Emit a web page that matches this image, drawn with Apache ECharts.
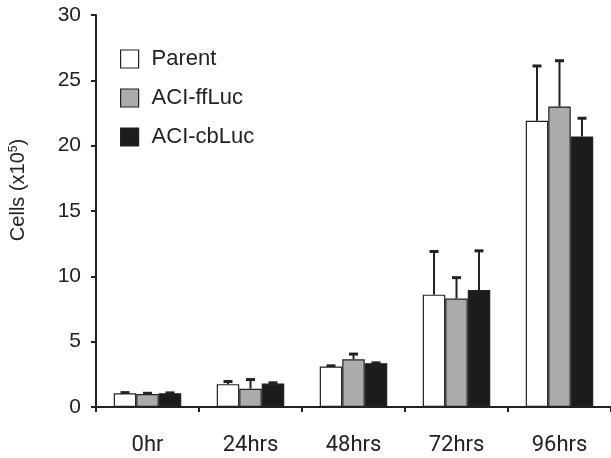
<!DOCTYPE html>
<html><head><meta charset="utf-8">
<script src="https://cdn.jsdelivr.net/npm/echarts@6/dist/echarts.min.js"></script>
<style>html,body{margin:0;padding:0;background:#fff}#c{width:611px;height:458px}</style>
</head><body><div id="c"></div>
<script>
const categories = ['0hr', '24hrs', '48hrs', '72hrs', '96hrs'];
const seriesNames = ['Parent', 'ACI-ffLuc', 'ACI-cbLuc'];
const parentMean = [1.05, 1.75, 3.1, 8.6, 21.9];
const parentSD   = [0.05, 0.2, 0.05, 3.3, 4.2];
const ffLucMean  = [1.0, 1.4, 3.65, 8.3, 23.0];
const ffLucSD    = [0.05, 0.7, 0.4, 1.6, 3.5];
const cbLucMean  = [1.05, 1.8, 3.35, 8.95, 20.7];
const cbLucSD    = [0.03, 0.05, 0.03, 3.0, 1.4];
const yTicks = [0, 5, 10, 15, 20, 25, 30];

const means = [parentMean, ffLucMean, cbLucMean];
const sds = [parentSD, ffLucSD, cbLucSD];
const colors = ['#ffffff', '#ababab', '#1c1c1c'];
const BW = 22.5;
const font = 'Liberation Sans, Arial, sans-serif';

const chart = echarts.init(document.getElementById('c'));
const series = [];
seriesNames.forEach((n, i) => {
  series.push({
    name: n, type: 'bar', data: means[i], barWidth: BW, barGap: '0%',
    itemStyle: { color: colors[i], borderColor: '#222', borderWidth: 1.2, borderRadius: 0 }
  });
});
seriesNames.forEach((n, i) => {
  series.push({
    type: 'custom', silent: true, z: 1,
    data: means[i].map((m, k) => [k, m, m + sds[i][k]]),
    renderItem: function (params, api) {
      const p0 = api.coord([api.value(0), api.value(1)]);
      const p1 = api.coord([api.value(0), api.value(2)]);
      const x = p0[0] + (i - 1) * BW;
      return { type: 'group', children: [
        { type: 'line', shape: { x1: x, y1: p0[1], x2: x, y2: p1[1] }, style: { stroke: '#222', lineWidth: 2 } },
        { type: 'line', shape: { x1: x - 4.5, y1: p1[1], x2: x + 4.5, y2: p1[1] }, style: { stroke: '#222', lineWidth: 3 } }
      ]};
    }
  });
});

chart.setOption({
  animation: false,
  backgroundColor: '#fff',
  grid: { left: 88, right: 0, top: 15, bottom: 51, containLabel: false },
  legend: {
    data: seriesNames.map((n, i) => ({ name: n, icon: 'rect' })),
    orient: 'vertical', left: 115, top: 43,
    itemWidth: 18, itemHeight: 18, itemGap: 17, selectedMode: false,
    textStyle: { fontFamily: font, fontSize: 22, color: '#222', padding: [0, 0, 0, 8] },
    itemStyle: { borderColor: '#222', borderWidth: 1.2 }
  },
  xAxis: {
    type: 'category', data: categories,
    axisLine: { lineStyle: { color: '#222', width: 2 } },
    axisTick: { show: true, length: 5, lineStyle: { color: '#222', width: 2 } },
    axisLabel: { fontFamily: 'Roboto, Liberation Sans, sans-serif', fontSize: 22, color: '#222', margin: 27 }
  },
  yAxis: {
    type: 'value', min: 0, max: 30, interval: 5,
    name: 'Cells (x10{sup|5})', nameLocation: 'middle', nameRotate: 90, nameGap: 67,
    nameTextStyle: { fontFamily: font, fontSize: 20, color: '#222', padding: [0, 0, 0, 42],
      rich: { sup: { fontFamily: font, fontSize: 12, color: '#222', verticalAlign: 'top', padding: [0, 0, 9, 0] } } },
    splitLine: { show: false },
    axisLine: { show: true, lineStyle: { color: '#222', width: 2 } },
    axisTick: { show: true, length: 5, lineStyle: { color: '#222', width: 2 } },
    axisLabel: { fontFamily: font, fontSize: 21, color: '#222', margin: 15,
      formatter: v => yTicks.includes(v) ? String(v) : '' }
  },
  series: series
});
</script></body></html>
